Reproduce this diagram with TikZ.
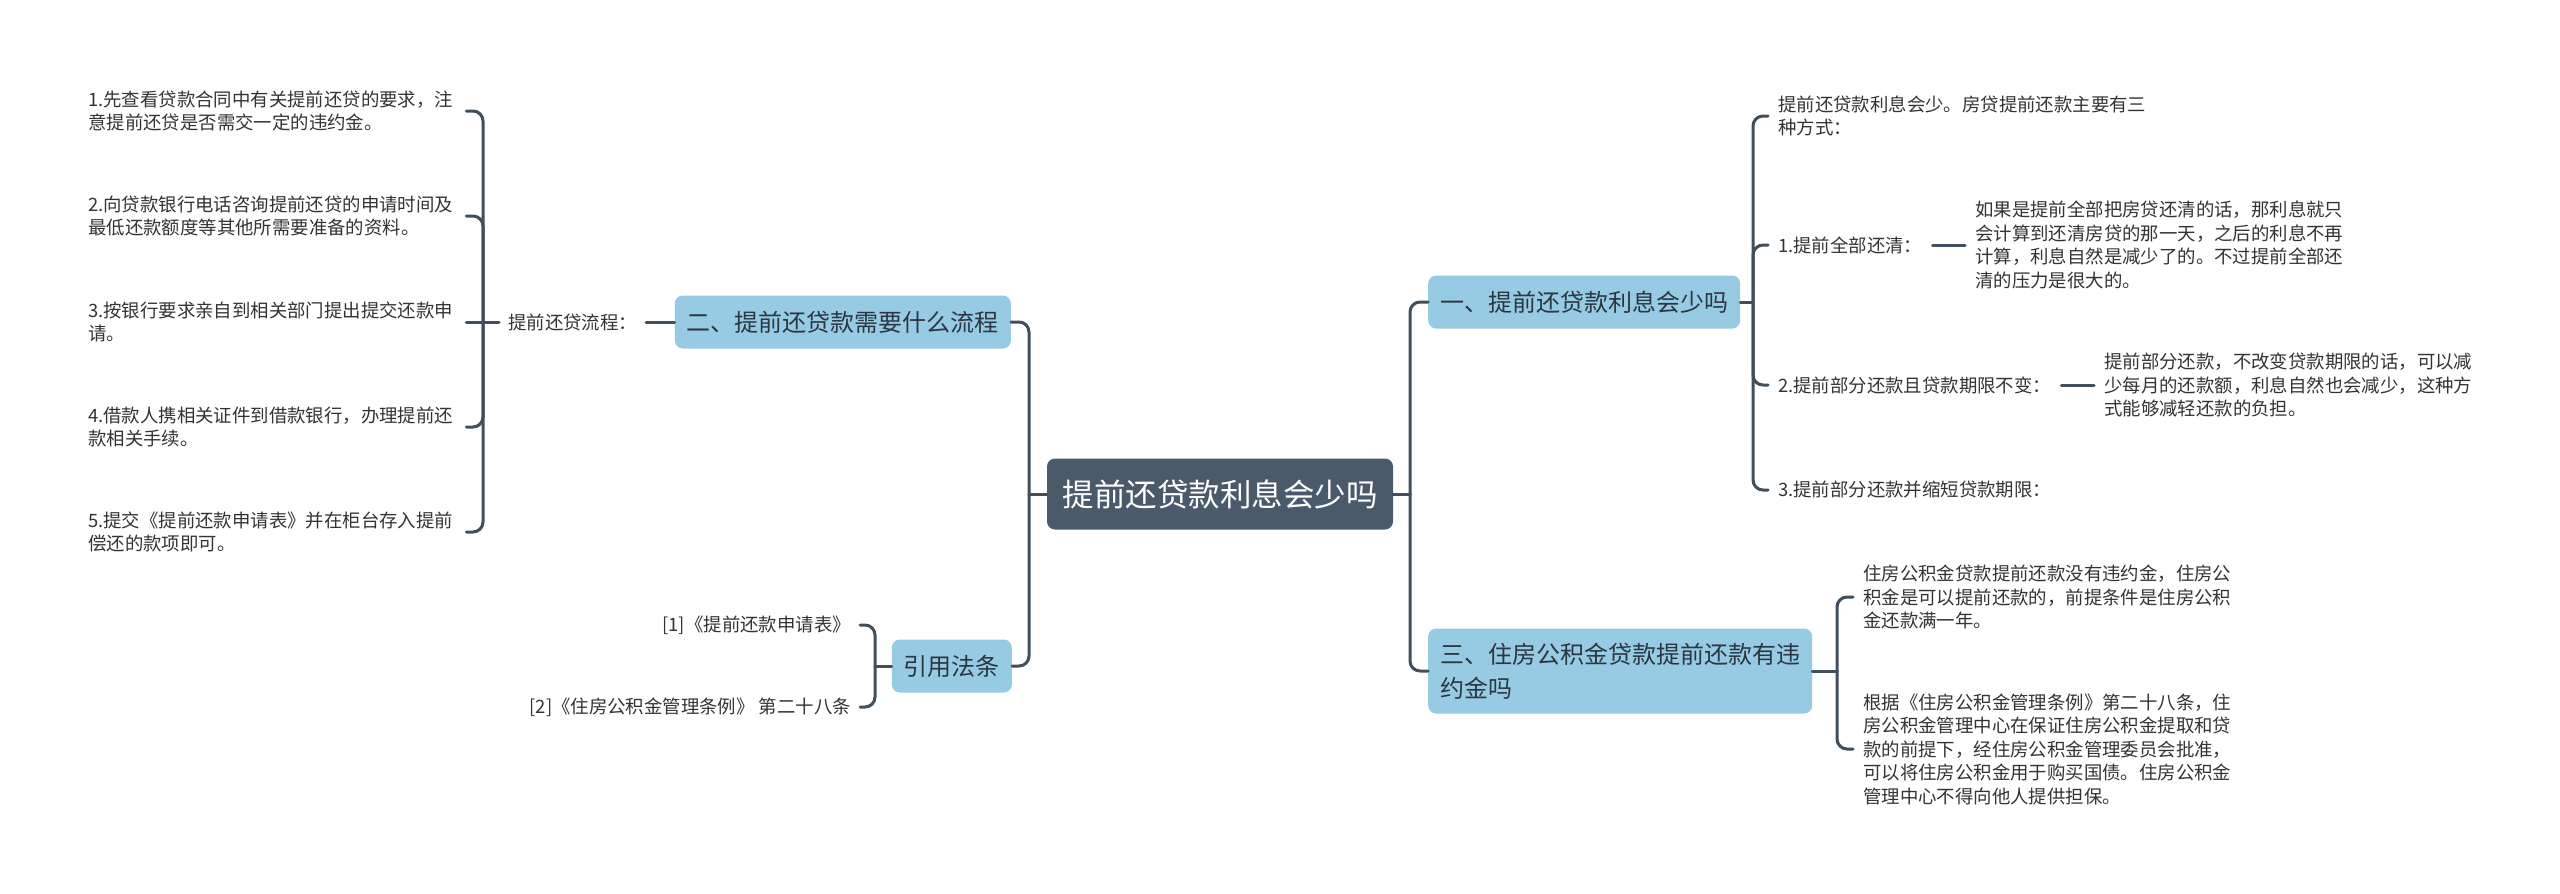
\documentclass[tikz,border=0pt]{standalone}
\usepackage{fontspec}
\setmainfont{Noto Sans CJK SC}
\definecolor{linec}{HTML}{414E5C}
\definecolor{rootc}{HTML}{4A5A6A}
\definecolor{topicc}{HTML}{96CBE3}
\definecolor{topictext}{HTML}{2B3640}
\definecolor{leaftext}{HTML}{333333}
\tikzset{
  rootbox/.style={fill=rootc, text=white, rounded corners=8pt, inner xsep=15.5pt, minimum height=71pt,
    font=\fontsize{31.5}{38}\selectfont},
  topicbox/.style={fill=topicc, text=topictext, rounded corners=8pt, inner xsep=12pt, minimum height=53pt,
    align=left, font=\fontsize{24}{34}\selectfont},
  leaf/.style={text=leaftext, inner xsep=10pt, inner ysep=3pt, align=left, font=\fontsize{18.4}{23.5}\selectfont},
  lleaf/.style={leaf, text width=370pt, inner xsep=8pt},
  conn/.style={draw=linec, line width=3pt, line cap=round},
  rconn/.style={conn, rounded corners=10pt},
}
\begin{document}
\begin{tikzpicture}[x=1pt,y=-1pt]
\useasboundingbox[fill=white] (0,0) rectangle (2560,894);
% trunk / bracket coordinates
\coordinate (tL) at (1029,0);
\coordinate (tR) at (1410,0);
\coordinate (bA) at (483,0);
\coordinate (bB) at (875,0);
\coordinate (bC) at (1753,0);
\coordinate (bD) at (1837,0);
% root
\node[rootbox] (root) at (1220,494) {提前还贷款利息会少吗};
% main topics
\node[topicbox, anchor=east] (n2) at (1011,322) {二、提前还贷款需要什么流程};
\node[topicbox, anchor=east] (ref) at (1012,666) {引用法条};
\node[topicbox, anchor=west] (n1) at (1428,302) {一、提前还贷款利息会少吗};
\node[topicbox, anchor=west, minimum height=85pt] (n3) at (1428,671) {三、住房公积金贷款提前还款有违\\约金吗};
% left branch
\node[leaf, anchor=west, inner xsep=9pt] (lab) at (499,322) {提前还贷流程：};
\node[lleaf, anchor=west] (i1) at (80,111) {1.先查看贷款合同中有关提前还贷的要求，注\\意提前还贷是否需交一定的违约金。};
\node[lleaf, anchor=west] (i2) at (80,216) {2.向贷款银行电话咨询提前还贷的申请时间及\\最低还款额度等其他所需要准备的资料。};
\node[lleaf, anchor=west] (i3) at (80,322) {3.按银行要求亲自到相关部门提出提交还款申\\请。};
\node[lleaf, anchor=west] (i4) at (80,427) {4.借款人携相关证件到借款银行，办理提前还\\款相关手续。};
\node[lleaf, anchor=west] (i5) at (80,532) {5.提交《提前还款申请表》并在柜台存入提前\\偿还的款项即可。};
% references
\node[leaf, anchor=east, inner xsep=9pt] (f1) at (860,625) {[1]《提前还款申请表》};
\node[leaf, anchor=east, inner xsep=9pt] (f2) at (860,707) {[2]《住房公积金管理条例》 第二十八条};
% right branch 1
\node[leaf, anchor=west] (c1) at (1768,116) {提前还贷款利息会少。房贷提前还款主要有三\\种方式：};
\node[leaf, anchor=west] (c2) at (1768,245) {1.提前全部还清：};
\node[leaf, anchor=west] (c3) at (1768,385) {2.提前部分还款且贷款期限不变：};
\node[leaf, anchor=west] (c4) at (1768,490) {3.提前部分还款并缩短贷款期限：};
\node[leaf, anchor=west] (d2) at (1965,245) {如果是提前全部把房贷还清的话，那利息就只\\会计算到还清房贷的那一天，之后的利息不再\\计算，利息自然是减少了的。不过提前全部还\\清的压力是很大的。};
\node[leaf, anchor=west] (d3) at (2094,385) {提前部分还款，不改变贷款期限的话，可以减\\少每月的还款额，利息自然也会减少，这种方\\式能够减轻还款的负担。};
% right branch 3
\node[leaf, anchor=west] (e1) at (1853,597) {住房公积金贷款提前还款没有违约金，住房公\\积金是可以提前还款的，前提条件是住房公积\\金还款满一年。};
\node[leaf, anchor=west] (e2) at (1853,749) {根据《住房公积金管理条例》第二十八条，住\\房公积金管理中心在保证住房公积金提取和贷\\款的前提下，经住房公积金管理委员会批准，\\可以将住房公积金用于购买国债。住房公积金\\管理中心不得向他人提供担保。};
% connectors: root
\draw[conn] (root.west) -- (root.west -| tL);
\draw[rconn] (root.west -| tL) |- (n2.east);
\draw[rconn] (root.west -| tL) |- (ref.east);
\draw[conn] (root.east) -- (root.east -| tR);
\draw[rconn] (root.east -| tR) |- (n1.west);
\draw[rconn] (root.east -| tR) |- (n3.west);
% left branch
\draw[conn] (n2.west) -- (lab.east);
\draw[conn] (lab.west) -- (i3.east);
\draw[rconn] (lab.west -| bA) |- (i1.east);
\draw[rconn] (lab.west -| bA) |- (i2.east);
\draw[rconn] (lab.west -| bA) |- (i4.east);
\draw[rconn] (lab.west -| bA) |- (i5.east);
% references
\draw[conn] (ref.west) -- (ref.west -| bB);
\draw[rconn] (ref.west -| bB) |- (f1.east);
\draw[rconn] (ref.west -| bB) |- (f2.east);
% right 1
\draw[conn] (n1.east) -- (n1.east -| bC);
\draw[rconn] (n1.east -| bC) |- (c1.west);
\draw[rconn] (n1.east -| bC) |- (c2.west);
\draw[rconn] (n1.east -| bC) |- (c3.west);
\draw[rconn] (n1.east -| bC) |- (c4.west);
\draw[conn] (c2.east) -- (d2.west);
\draw[conn] (c3.east) -- (d3.west);
% right 3
\draw[conn] (n3.east) -- (n3.east -| bD);
\draw[rconn] (n3.east -| bD) |- (e1.west);
\draw[rconn] (n3.east -| bD) |- (e2.west);
\end{tikzpicture}
\end{document}
